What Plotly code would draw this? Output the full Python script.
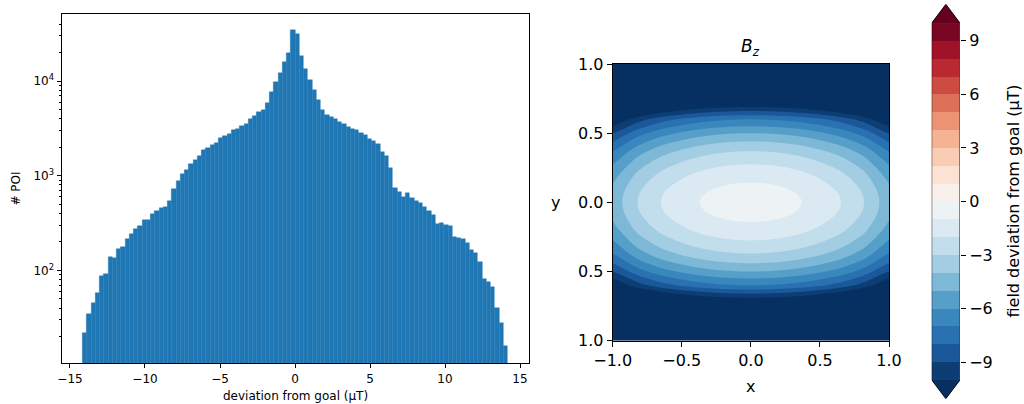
import numpy as np
import plotly.graph_objects as go

# ---------------- data ----------------
# histogram of deviations (100 equal bins between bin_lo and bin_hi)
bin_lo, bin_hi, n_bins = -14.15, 14.17, 100
poi_counts = [22, 35, 45, 58, 87, 92, 139, 134, 167, 178,
              213, 242, 272, 294, 340, 340, 391, 427, 452, 464,
              540, 729, 879, 1030, 1149, 1323, 1447, 1627, 1855, 1962,
              2095, 2189, 2502, 2627, 2725, 3018, 3099, 3350, 3510, 3973,
              4273, 4675, 4982, 5821, 7697, 9748, 12252, 15704, 19785, 34630,
              31260, 18395, 13310, 10183, 8043, 6306, 4945, 4357, 4202, 3982,
              3694, 3518, 3294, 3137, 3040, 2847, 2692, 2424, 2343, 2146,
              1793, 1615, 1197, 747, 678, 600, 652, 581, 540, 511,
              470, 424, 384, 309, 319, 301, 294, 227, 218, 213,
              193, 164, 154, 123, 82, 76, 66, 40, 28, 16]
hist_xticks = [-15, -10, -5, 0, 5, 10, 15]
hist_yticks = [100, 1000, 10000]

# field profile read along y=0 (x direction) and along x=0 (y direction)
field_center = -0.55
field_x_pos = [0.0, 0.368, 0.652, 0.82, 0.93, 1.0]
field_x_val = [-0.55, -1, -2, -3, -4, -4.6]
field_y_pos = [0.0, 0.142, 0.275, 0.37, 0.44, 0.5, 0.55, 0.6, 0.63, 0.66, 0.69, 1.0]
field_y_val = [-0.55, -1, -2, -3, -4, -5, -6, -7, -8, -9, -10, -30]
levels = list(range(-10, 11))
map_ticks = [-1.0, -0.5, 0.0, 0.5, 1.0]
map_xticklabels = ["−1.0", "−0.5", "0.0", "0.5", "1.0"]
map_yticklabels = ["1.0", "0.5", "0.0", "0.5", "1.0"]
cbar_ticks = [-9, -6, -3, 0, 3, 6, 9]

# ---------------- helpers ----------------
W, H = 1024, 404
FONT = "DejaVu Sans"


def px_x(p):
    return p / W


def px_y(p):
    return 1 - p / H


RDBU = [(5, 48, 97), (33, 102, 172), (67, 147, 195), (146, 197, 222), (209, 229, 240),
        (247, 247, 247), (253, 219, 199), (244, 165, 130), (214, 96, 77), (178, 24, 43),
        (103, 0, 31)]


def rdbu_r(v):
    i = min(max(int(v * 256), 0), 255)
    t = i / 255 * 10
    k = min(int(t), 9)
    f = t - k
    c = [RDBU[k][j] + (RDBU[k + 1][j] - RDBU[k][j]) * f for j in range(3)]
    return "rgb(%d,%d,%d)" % tuple(int(round(x)) for x in c)


lo, hi = levels[0], levels[-1]
band_colors = [rdbu_r(0.0)]
for L in levels[:-1]:
    band_colors.append(rdbu_r((L + 0.5 - lo) / (hi - lo)))
band_colors.append(rdbu_r(1.0))
nbands = len(band_colors)
colorscale = [[k / (nbands - 1), c] for k, c in enumerate(band_colors)]

# ---------------- figure ----------------
fig = go.Figure()

edges = np.linspace(bin_lo, bin_hi, n_bins + 1)
centers = 0.5 * (edges[:-1] + edges[1:])
bw = edges[1] - edges[0]
fig.add_trace(go.Bar(x=centers, y=poi_counts, width=bw,
                     marker=dict(color="#1f77b4", line=dict(color="#1f77b4", width=0.4)),
                     xaxis="x", yaxis="y", showlegend=False))

g = np.linspace(-1, 1, 241)
X, Y = np.meshgrid(g, g)
xp2 = np.array(field_x_pos) ** 2
yp2 = np.array(field_y_pos) ** 2
Z = (np.interp(X ** 2, xp2, field_x_val) + np.interp(Y ** 2, yp2, field_y_val)
     - field_center)
fig.add_trace(go.Contour(x=g, y=g, z=Z, colorscale=colorscale, autocontour=False,
                         contours=dict(start=lo, end=hi, size=1, coloring="fill",
                                       showlines=False),
                         line=dict(width=0), showscale=False,
                         xaxis="x2", yaxis="y2"))

# colour bar drawn as its own axes
mids = [L + 0.5 for L in levels[:-1]]
fig.add_trace(go.Heatmap(x=[0], y=mids, z=[[m] for m in mids], colorscale=colorscale,
                         zmin=lo - 0.5, zmax=hi + 0.5, showscale=False,
                         xaxis="x3", yaxis="y3", hoverinfo="skip"))
tip = 1.05
fig.add_trace(go.Scatter(x=[-0.5, 0.5, 0, -0.5], y=[hi, hi, hi + tip, hi], fill="toself",
                         fillcolor=band_colors[-1], mode="lines", line=dict(width=0),
                         xaxis="x3", yaxis="y3", showlegend=False, hoverinfo="skip"))
fig.add_trace(go.Scatter(x=[-0.5, 0.5, 0, -0.5], y=[lo, lo, lo - tip, lo], fill="toself",
                         fillcolor=band_colors[0], mode="lines", line=dict(width=0),
                         xaxis="x3", yaxis="y3", showlegend=False, hoverinfo="skip"))
fig.add_trace(go.Scatter(x=[-0.5, -0.5, 0, 0.5, 0.5, 0, -0.5],
                         y=[lo, hi, hi + tip, hi, lo, lo - tip, lo], mode="lines",
                         line=dict(color="black", width=0.9),
                         xaxis="x3", yaxis="y3", showlegend=False, hoverinfo="skip"))

axis_common = dict(showgrid=False, zeroline=False, showline=True, linecolor="black",
                   linewidth=1, mirror=True, ticks="outside", tickcolor="black",
                   automargin=False)


def ann(text, x, y, size, angle=0):
    return dict(text=text, x=px_x(x), y=px_y(y), xref="paper", yref="paper",
                xanchor="center", yanchor="middle", showarrow=False, textangle=angle,
                font=dict(size=size))


fig.update_layout(
    width=W, height=H, margin=dict(l=0, r=0, t=0, b=0, pad=0, autoexpand=False),
    paper_bgcolor="white", plot_bgcolor="white", bargap=0, showlegend=False,
    font=dict(family=FONT, color="black"),
    xaxis=dict(domain=[px_x(61.5), px_x(528.8)], range=[-15.566, 15.586],
               tickvals=hist_xticks, ticktext=[str(v).replace("-", "−") for v in hist_xticks],
               ticklen=4, tickfont=dict(size=12), anchor="y", **axis_common),
    yaxis=dict(domain=[px_y(363.3), px_y(14)], type="log", range=[1.018, 4.708],
               tickvals=hist_yticks,
               ticktext=["10<sup>%d</sup>" % int(np.log10(v)) for v in hist_yticks],
               ticklen=4, tickfont=dict(size=12), anchor="x",
               minor=dict(tickvals=[m * 10 ** e for e in (1, 2, 3, 4) for m in range(2, 10)
                                    if m * 10 ** e < 50000],
                          ticks="outside", ticklen=2, tickcolor="black"),
               **axis_common),
    xaxis2=dict(domain=[px_x(612.7), px_x(889)], range=[-1, 1], tickvals=map_ticks,
                ticktext=map_xticklabels, ticklen=5, tickfont=dict(size=16),
                anchor="y2", **axis_common),
    yaxis2=dict(domain=[px_y(340.7), px_y(64)], range=[-1, 1], tickvals=map_ticks,
                ticktext=map_yticklabels[::-1], ticklen=5, tickfont=dict(size=16),
                anchor="x2", **axis_common),
    xaxis3=dict(domain=[px_x(931.7), px_x(960)], range=[-0.5, 0.5], visible=False,
                anchor="y3", automargin=False),
    yaxis3=dict(domain=[px_y(398.7), px_y(4.3)], range=[lo - tip, hi + tip], side="right",
                anchor="x3", showgrid=False, zeroline=False, showline=False,
                automargin=False,
                tickvals=cbar_ticks, ticktext=[str(v).replace("-", "−") for v in cbar_ticks],
                ticks="outside", ticklen=5, tickcolor="black", tickfont=dict(size=16)),
    annotations=[
        ann("# POI", 16, 188.6, 12, -90),
        ann("deviation from goal (μT)", 295.2, 396, 12),
        ann("<i>B</i><sub><i>z</i></sub>", 750.9, 47, 17),
        ann("x", 750.9, 386, 16),
        ann("y", 555, 202, 16),
        ann("field deviation from goal (μT)", 1013, 201.5, 16, -90),
    ],
)

fig.write_html("out.html", config={"displayModeBar": False},
               post_script="document.body.style.margin='0px';")
